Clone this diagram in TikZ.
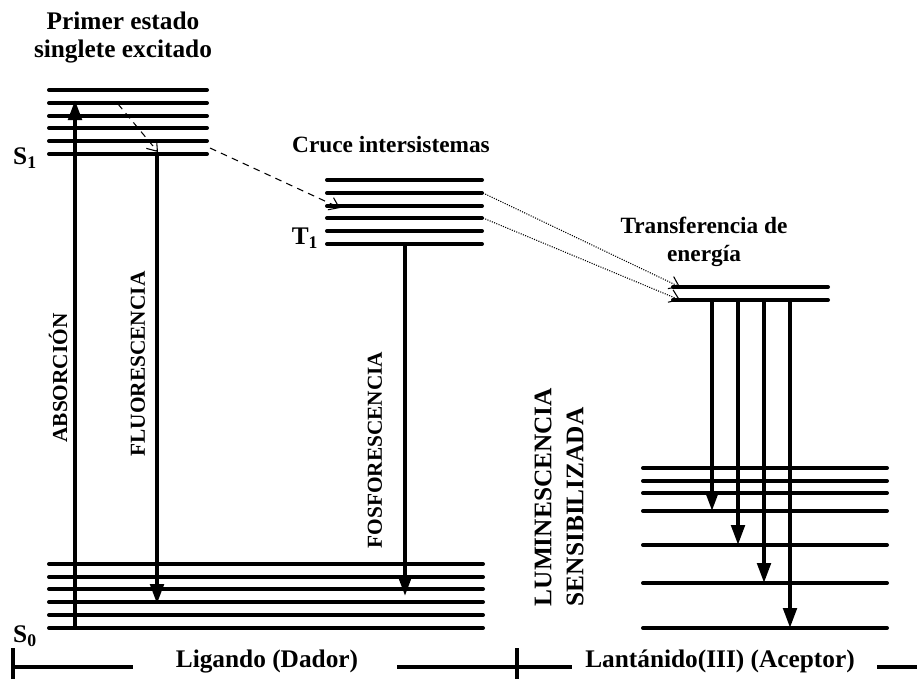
\documentclass[tikz,border=0pt]{standalone}
\usepackage{fontspec}
\setmainfont{Liberation Serif}
\usetikzlibrary{arrows.meta}
\begin{document}
\begin{tikzpicture}[x=0.75pt,y=-0.75pt,
	lvl/.style={line width=3pt,line cap=round},
	trans/.style={line width=3pt,-{Triangle[length=15pt,width=10pt]}},
	isc/.style={line width=0.8pt,dash pattern=on 5pt off 4pt,-{Straight Barb[length=7pt,width=10pt]}},
	et/.style={line width=0.8pt,densely dotted,-{Straight Barb[length=7pt,width=10pt]}},
	bar/.style={line width=3pt},
	big/.style={font=\bfseries\fontsize{19}{21}\selectfont},
	mid/.style={font=\bfseries\fontsize{17.5}{21}\selectfont},
	small/.style={font=\bfseries\fontsize{16}{19}\selectfont}]
	\useasboundingbox (0,0) rectangle (923,679);
	% niveles S1, T1, S0
	\foreach \y in {90,103,116,128,141,154} \draw[lvl] (49,\y)--(207,\y);
	\foreach \y in {180,193,206,218,231,244} \draw[lvl] (327,\y)--(482,\y);
	\foreach \y in {564,577,589,602,615,628} \draw[lvl] (49,\y)--(483,\y);
	% niveles del lantanido
	\foreach \y in {287,300} \draw[lvl] (673,\y)--(828,\y);
	\foreach \y in {468,481,493,511,545,583,628} \draw[lvl] (643,\y)--(887,\y);
	% puntos de las transiciones
	\coordinate (abs0) at (75,628);
	\coordinate (abs1) at (75,100);
	\coordinate (fl0) at (157,154);
	\coordinate (fl1) at (157,604);
	\coordinate (fos0) at (405,244);
	\coordinate (fos1) at (405,596);
	\coordinate (rel0) at (118,104);
	\coordinate (rel1) at (158,152);
	\coordinate (cis0) at (210,148);
	\coordinate (cis1) at (340,208);
	\coordinate (t2) at (483,193);
	\coordinate (t4) at (483,218);
	\coordinate (ln1) at (680,287);
	\coordinate (ln2) at (680,300);
	\draw[trans] (abs0)--(abs1);
	\draw[trans] (fl0)--(fl1);
	\draw[trans] (fos0)--(fos1);
	\draw[isc] (rel0)--(rel1);
	\draw[isc] (cis0)--(cis1);
	\draw[et] (t2)--(ln1);
	\draw[et] (t4)--(ln2);
	\foreach \x/\y in {712/511,738/545,764/583,790/628}
		\draw[trans] (\x,300)--(\x,\y);
	% textos
	\node[big,align=center] (primer) at (123,38) {Primer estado\\singlete excitado};
	\node[mid] (cruce) at (391,145) {Cruce intersistemas};
	\node[mid,align=center] (transf) at (704,242) {Transferencia de\\energía};
	\node[big] (S1) at (25,158) {S\textsubscript{1}};
	\node[big] (T1) at (305,238) {T\textsubscript{1}};
	\node[big] (S0) at (25,636) {S\textsubscript{0}};
	\node[small,rotate=90] (absor) at (58,378) {ABSORCIÓN};
	\node[small,rotate=90] (fluor) at (138,364) {FLUORESCENCIA};
	\node[small,rotate=90] (fosfo) at (375,450) {FOSFORESCENCIA};
	\node[font=\bfseries\fontsize{19}{24}\selectfont,align=left,rotate=90] (lumin) at (559,497) {LUMINESCENCIA\\SENSIBILIZADA};
	% barra inferior
	\node[big] (ligando) at (267,661) {Ligando (Dador)};
	\node[big] (lantan) at (720,661) {Lantánido(III) (Aceptor)};
	\draw[bar] (13,648)--(13,679) (517,648)--(517,679);
	\draw[bar] (13,667)--(133,667) (397,667)--(572,667) (877,667)--(917,667);
\end{tikzpicture}
\end{document}
